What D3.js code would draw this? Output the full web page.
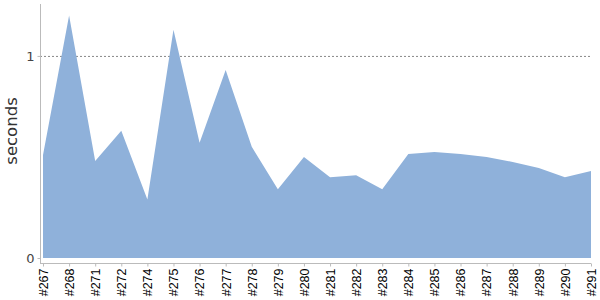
<!DOCTYPE html>
<html><head><meta charset="utf-8">
<script src="https://cdn.jsdelivr.net/npm/d3@7"></script>
<style>body{margin:0;background:#fff}svg{display:block}</style>
</head><body><svg id="c" width="600" height="300"></svg>
<script>
const builds = ["#267","#268","#271","#272","#274","#275","#276","#277","#278","#279","#280","#281","#282","#283","#284","#285","#286","#287","#288","#289","#290","#291"];
const seconds = [0.51,1.20,0.48,0.63,0.29,1.13,0.57,0.93,0.55,0.34,0.50,0.40,0.41,0.34,0.515,0.525,0.515,0.50,0.475,0.445,0.40,0.43];
const yTicks = [0, 1];
const yMax = 1.257;

const svg = d3.select("#c");
const x = d3.scalePoint().domain(builds).range([43, 591]);
const y = d3.scaleLinear().domain([0, yMax]).range([258, 4]);

// dashed gridline at 1
svg.append("g").selectAll("line").data(yTicks.filter(d => d > 0)).join("line")
  .attr("x1", 40).attr("x2", 591).attr("y1", d => y(d)+0.5).attr("y2", d => y(d)+0.5)
  .attr("stroke", "#888").attr("stroke-dasharray", "2,2").attr("stroke-width", 1);

const area = d3.area().x((d,i) => x(builds[i])).y0(y(0)).y1(d => y(d));
svg.append("path").datum(seconds).attr("d", area).attr("fill", "#8fb1da");

// y axis
const ya = svg.append("g").attr("transform", "translate(40.5,0)")
  .call(d3.axisLeft(y).tickValues(yTicks).tickSize(3).tickFormat(d3.format("d")));
ya.select(".domain").attr("stroke", "#bbb").attr("d", "M0,4V263");
ya.selectAll(".tick line").attr("stroke", "#bbb");
ya.selectAll("text").attr("fill", "#444").attr("font-family", "DejaVu Sans, sans-serif").attr("font-size", 13).attr("x", -6);

// x axis
const xa = svg.append("g").attr("transform", "translate(0,263.5)")
  .call(d3.axisBottom(x).tickSize(3).tickSizeOuter(0));
xa.select(".domain").attr("stroke", "#bbb").attr("d", "M40,0H591");
xa.selectAll(".tick line").attr("stroke", "#bbb");
xa.selectAll("text").attr("fill", "#000").attr("font-family", "Liberation Sans, Arial, sans-serif").attr("font-size", 12.5)
  .attr("transform", "rotate(-90)").attr("text-anchor", "end").attr("x", -5).attr("y", 0).attr("dy", "0.35em");

svg.append("text").attr("transform", "translate(17,131) rotate(-90)")
  .attr("text-anchor", "middle").attr("font-family", "DejaVu Sans, sans-serif").attr("font-size", 16.5)
  .attr("fill", "#333").text("seconds");
</script></body></html>
